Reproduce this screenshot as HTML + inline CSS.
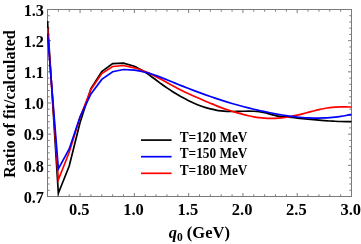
<!DOCTYPE html>
<html><head><meta charset="utf-8"><style>
html,body{margin:0;padding:0;background:#fff;}
body{width:361px;height:244px;position:relative;overflow:hidden;font-family:"Liberation Serif",serif;font-weight:bold;color:#000;}
svg{position:absolute;left:0;top:0;}
#tx{position:absolute;left:0;top:0;width:361px;height:244px;opacity:0.999;will-change:opacity;}
.xl{position:absolute;top:199.5px;width:40px;text-align:center;font-size:16.5px;line-height:20px;transform:scaleY(1.05);transform-origin:50% 15.5px;}
.yl{position:absolute;left:0;width:44px;text-align:right;font-size:16.3px;line-height:20px;transform:scaleY(1.05);transform-origin:100% 15.5px;}
.ylab{position:absolute;left:9.8px;top:104.25px;width:0;height:0;}
.ylab span{position:absolute;white-space:nowrap;font-size:16px;line-height:20px;transform:translate(-50%,-50%) rotate(-90deg);display:block;}
.xlab{position:absolute;left:99.3px;top:223px;width:200px;text-align:center;font-size:16.5px;line-height:20px;white-space:nowrap;}
.xlab sub{font-size:11.5px;vertical-align:baseline;position:relative;top:3px;font-style:normal;}
.lg{position:absolute;left:179.7px;font-size:13.3px;line-height:16px;white-space:nowrap;word-spacing:0px;transform:scaleY(1.05);transform-origin:0 12.4px;}
</style></head><body>
<svg width="361" height="244" viewBox="0 0 361 244">
<defs><clipPath id="c"><rect x="47.0" y="9.5" width="305.0" height="187.8"/></clipPath></defs>
<path d="M47.50 196.50 v-2.20 M47.50 9.50 v2.20 M58.36 196.50 v-2.20 M58.36 9.50 v2.20 M69.21 196.50 v-2.20 M69.21 9.50 v2.20 M80.07 196.50 v-3.50 M80.07 9.50 v3.50 M90.93 196.50 v-2.20 M90.93 9.50 v2.20 M101.79 196.50 v-2.20 M101.79 9.50 v2.20 M112.64 196.50 v-2.20 M112.64 9.50 v2.20 M123.50 196.50 v-2.20 M123.50 9.50 v2.20 M134.36 196.50 v-3.50 M134.36 9.50 v3.50 M145.21 196.50 v-2.20 M145.21 9.50 v2.20 M156.07 196.50 v-2.20 M156.07 9.50 v2.20 M166.93 196.50 v-2.20 M166.93 9.50 v2.20 M177.79 196.50 v-2.20 M177.79 9.50 v2.20 M188.64 196.50 v-3.50 M188.64 9.50 v3.50 M199.50 196.50 v-2.20 M199.50 9.50 v2.20 M210.36 196.50 v-2.20 M210.36 9.50 v2.20 M221.21 196.50 v-2.20 M221.21 9.50 v2.20 M232.07 196.50 v-2.20 M232.07 9.50 v2.20 M242.93 196.50 v-3.50 M242.93 9.50 v3.50 M253.79 196.50 v-2.20 M253.79 9.50 v2.20 M264.64 196.50 v-2.20 M264.64 9.50 v2.20 M275.50 196.50 v-2.20 M275.50 9.50 v2.20 M286.36 196.50 v-2.20 M286.36 9.50 v2.20 M297.21 196.50 v-3.50 M297.21 9.50 v3.50 M308.07 196.50 v-2.20 M308.07 9.50 v2.20 M318.93 196.50 v-2.20 M318.93 9.50 v2.20 M329.79 196.50 v-2.20 M329.79 9.50 v2.20 M340.64 196.50 v-2.20 M340.64 9.50 v2.20 M351.50 196.50 v-3.50 M351.50 9.50 v3.50 M47.50 196.50 h3.50 M351.50 196.50 h-3.50 M47.50 190.27 h2.20 M351.50 190.27 h-2.20 M47.50 184.03 h2.20 M351.50 184.03 h-2.20 M47.50 177.80 h2.20 M351.50 177.80 h-2.20 M47.50 171.57 h2.20 M351.50 171.57 h-2.20 M47.50 165.33 h3.50 M351.50 165.33 h-3.50 M47.50 159.10 h2.20 M351.50 159.10 h-2.20 M47.50 152.87 h2.20 M351.50 152.87 h-2.20 M47.50 146.63 h2.20 M351.50 146.63 h-2.20 M47.50 140.40 h2.20 M351.50 140.40 h-2.20 M47.50 134.17 h3.50 M351.50 134.17 h-3.50 M47.50 127.93 h2.20 M351.50 127.93 h-2.20 M47.50 121.70 h2.20 M351.50 121.70 h-2.20 M47.50 115.47 h2.20 M351.50 115.47 h-2.20 M47.50 109.23 h2.20 M351.50 109.23 h-2.20 M47.50 103.00 h3.50 M351.50 103.00 h-3.50 M47.50 96.77 h2.20 M351.50 96.77 h-2.20 M47.50 90.53 h2.20 M351.50 90.53 h-2.20 M47.50 84.30 h2.20 M351.50 84.30 h-2.20 M47.50 78.07 h2.20 M351.50 78.07 h-2.20 M47.50 71.83 h3.50 M351.50 71.83 h-3.50 M47.50 65.60 h2.20 M351.50 65.60 h-2.20 M47.50 59.37 h2.20 M351.50 59.37 h-2.20 M47.50 53.13 h2.20 M351.50 53.13 h-2.20 M47.50 46.90 h2.20 M351.50 46.90 h-2.20 M47.50 40.67 h3.50 M351.50 40.67 h-3.50 M47.50 34.43 h2.20 M351.50 34.43 h-2.20 M47.50 28.20 h2.20 M351.50 28.20 h-2.20 M47.50 21.97 h2.20 M351.50 21.97 h-2.20 M47.50 15.73 h2.20 M351.50 15.73 h-2.20 M47.50 9.50 h3.50 M351.50 9.50 h-3.50" stroke="#444" stroke-width="0.7" fill="none"/>
<rect x="47.5" y="9.5" width="304.0" height="187.0" fill="none" stroke="#7a7a7a" stroke-width="1"/>
<g clip-path="url(#c)" fill="none" stroke-width="1.7" stroke-linejoin="miter" stroke-miterlimit="10">
<path d="M47.50 21.00 L58.36 193.20 L69.21 166.00 L80.07 122.50 L90.93 88.60 L101.79 71.50 L112.64 63.60 L123.50 63.20 L134.36 66.20 C137.98 67.72 142.50 70.69 145.21 72.33 C147.93 73.97 148.83 74.76 150.64 76.04 C152.45 77.32 154.26 78.67 156.07 79.99 C157.88 81.32 159.69 82.69 161.50 84.00 C163.31 85.31 165.12 86.63 166.93 87.87 C168.74 89.11 170.55 90.30 172.36 91.44 C174.17 92.59 175.98 93.68 177.79 94.75 C179.60 95.81 181.40 96.84 183.21 97.82 C185.02 98.81 186.83 99.76 188.64 100.65 C190.45 101.55 192.26 102.41 194.07 103.21 C195.88 104.01 197.69 104.77 199.50 105.46 C201.31 106.15 203.12 106.80 204.93 107.37 C206.74 107.95 208.55 108.46 210.36 108.91 C212.17 109.36 213.98 109.74 215.79 110.06 C217.60 110.39 219.40 110.64 221.21 110.85 C223.02 111.06 224.83 111.20 226.64 111.31 C228.45 111.42 230.26 111.46 232.07 111.48 C233.88 111.50 235.69 111.46 237.50 111.42 C239.31 111.39 241.12 111.31 242.93 111.27 C244.74 111.23 246.55 111.17 248.36 111.17 C250.17 111.17 251.98 111.18 253.79 111.27 C255.60 111.36 257.40 111.49 259.21 111.73 C261.02 111.97 262.83 112.29 264.64 112.70 C266.45 113.10 268.26 113.69 270.07 114.18 C271.88 114.66 273.69 115.22 275.50 115.59 C277.31 115.97 279.12 116.20 280.93 116.42 C282.74 116.64 284.55 116.75 286.36 116.92 C288.17 117.10 289.98 117.27 291.79 117.46 C293.60 117.65 295.40 117.86 297.21 118.05 C299.02 118.25 300.83 118.45 302.64 118.64 C304.45 118.83 306.26 119.02 308.07 119.19 C309.88 119.37 311.69 119.55 313.50 119.71 C315.31 119.88 317.12 120.04 318.93 120.19 C320.74 120.34 322.55 120.48 324.36 120.61 C326.17 120.74 327.98 120.87 329.79 120.98 C331.60 121.08 333.40 121.18 335.21 121.27 C337.02 121.35 338.83 121.43 340.64 121.48 C342.45 121.54 344.26 121.59 346.07 121.61 C347.88 121.64 349.69 121.64 351.50 121.65" stroke="#000"/>
<path d="M47.50 28.00 L58.36 179.80 L69.21 152.20 L80.07 117.30 L90.93 89.50 L101.79 73.60 L112.64 66.50 L123.50 65.50 L134.36 67.80 C137.98 68.80 142.50 70.49 145.21 71.52 C147.93 72.55 148.83 73.13 150.64 74.00 C152.45 74.87 154.26 75.79 156.07 76.73 C157.88 77.66 159.69 78.64 161.50 79.62 C163.31 80.59 165.12 81.60 166.93 82.58 C168.74 83.57 170.55 84.58 172.36 85.55 C174.17 86.52 175.98 87.49 177.79 88.43 C179.60 89.36 181.40 90.27 183.21 91.15 C185.02 92.04 186.83 92.90 188.64 93.74 C190.45 94.58 192.26 95.40 194.07 96.21 C195.88 97.01 197.69 97.80 199.50 98.59 C201.31 99.37 203.12 100.14 204.93 100.91 C206.74 101.67 208.55 102.44 210.36 103.19 C212.17 103.95 213.98 104.72 215.79 105.45 C217.60 106.18 219.40 106.91 221.21 107.59 C223.02 108.26 224.83 108.90 226.64 109.52 C228.45 110.13 230.26 110.71 232.07 111.28 C233.88 111.84 235.69 112.39 237.50 112.92 C239.31 113.44 241.12 113.95 242.93 114.42 C244.74 114.88 246.55 115.33 248.36 115.73 C250.17 116.13 251.98 116.50 253.79 116.83 C255.60 117.15 257.40 117.43 259.21 117.66 C261.02 117.89 262.83 118.07 264.64 118.20 C266.45 118.32 268.26 118.39 270.07 118.40 C271.88 118.42 273.69 118.38 275.50 118.29 C277.31 118.21 279.12 118.07 280.93 117.89 C282.74 117.72 284.55 117.49 286.36 117.22 C288.17 116.96 289.98 116.65 291.79 116.31 C293.60 115.96 295.40 115.58 297.21 115.17 C299.02 114.76 300.83 114.30 302.64 113.84 C304.45 113.38 306.26 112.89 308.07 112.41 C309.88 111.93 311.69 111.44 313.50 110.97 C315.31 110.51 317.12 110.05 318.93 109.64 C320.74 109.22 322.55 108.83 324.36 108.49 C326.17 108.16 327.98 107.87 329.79 107.64 C331.60 107.42 333.40 107.27 335.21 107.15 C337.02 107.04 338.83 106.99 340.64 106.95 C342.45 106.92 344.26 106.93 346.07 106.94 C347.88 106.95 349.69 107.00 351.50 107.02" stroke="#ff0000"/>
<path d="M47.50 33.50 L58.36 168.90 L69.21 149.00 L80.07 116.80 L90.93 94.00 L101.79 79.40 L112.64 71.70 L123.50 69.50 L134.36 70.20 C137.98 70.65 142.50 71.63 145.21 72.23 C147.93 72.83 148.83 73.23 150.64 73.79 C152.45 74.36 154.26 74.98 156.07 75.62 C157.88 76.25 159.69 76.94 161.50 77.63 C163.31 78.32 165.12 79.05 166.93 79.77 C168.74 80.50 170.55 81.25 172.36 81.99 C174.17 82.73 175.98 83.48 177.79 84.22 C179.60 84.95 181.40 85.68 183.21 86.40 C185.02 87.12 186.83 87.83 188.64 88.53 C190.45 89.23 192.26 89.93 194.07 90.61 C195.88 91.29 197.69 91.97 199.50 92.63 C201.31 93.30 203.12 93.95 204.93 94.60 C206.74 95.24 208.55 95.88 210.36 96.50 C212.17 97.13 213.98 97.75 215.79 98.35 C217.60 98.95 219.40 99.55 221.21 100.13 C223.02 100.71 224.83 101.28 226.64 101.84 C228.45 102.40 230.26 102.94 232.07 103.47 C233.88 104.00 235.69 104.52 237.50 105.03 C239.31 105.53 241.12 106.02 242.93 106.50 C244.74 106.98 246.55 107.44 248.36 107.90 C250.17 108.35 251.98 108.79 253.79 109.22 C255.60 109.65 257.40 110.07 259.21 110.47 C261.02 110.88 262.83 111.28 264.64 111.66 C266.45 112.04 268.26 112.42 270.07 112.78 C271.88 113.14 273.69 113.49 275.50 113.82 C277.31 114.15 279.12 114.47 280.93 114.77 C282.74 115.08 284.55 115.36 286.36 115.63 C288.17 115.90 289.98 116.15 291.79 116.38 C293.60 116.61 295.40 116.82 297.21 117.00 C299.02 117.19 300.83 117.36 302.64 117.50 C304.45 117.64 306.26 117.76 308.07 117.85 C309.88 117.94 311.69 118.01 313.50 118.05 C315.31 118.09 317.12 118.10 318.93 118.09 C320.74 118.07 322.55 118.03 324.36 117.95 C326.17 117.88 327.98 117.77 329.79 117.63 C331.60 117.50 333.40 117.33 335.21 117.12 C337.02 116.92 338.83 116.68 340.64 116.41 C342.45 116.14 344.26 115.83 346.07 115.48 C347.88 115.14 349.69 114.72 351.50 114.33" stroke="#0000ff"/>
</g>
<g stroke-width="1.7" fill="none">
<path d="M141 140.1 H171.6" stroke="#000"/>
<path d="M141 156.7 H171.6" stroke="#0000ff"/>
<path d="M141 173.3 H171.6" stroke="#ff0000"/>
</g>
</svg>
<div id="tx"><div class="xl" style="left:59.27px">0.5</div><div class="xl" style="left:113.56px">1.0</div><div class="xl" style="left:167.84px">1.5</div><div class="xl" style="left:222.13px">2.0</div><div class="xl" style="left:276.41px">2.5</div><div class="xl" style="left:330.70px">3.0</div><div class="yl" style="top:187.70px">0.7</div><div class="yl" style="top:156.53px">0.8</div><div class="yl" style="top:125.37px">0.9</div><div class="yl" style="top:94.20px">1.0</div><div class="yl" style="top:63.03px">1.1</div><div class="yl" style="top:31.87px">1.2</div><div class="yl" style="top:0.70px">1.3</div>
<div class="ylab"><span>Ratio of fit/calculated</span></div>
<div class="xlab"><i>q</i><sub>0</sub> (GeV)</div>
<div class="lg" style="top:129.5px">T=120 MeV</div>
<div class="lg" style="top:146.1px">T=150 MeV</div>
<div class="lg" style="top:162.7px">T=180 MeV</div>
</div>
</body></html>
